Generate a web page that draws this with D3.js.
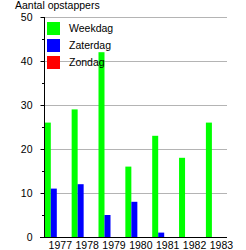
<!DOCTYPE html>
<html><head><meta charset="utf-8">
<script src="https://cdn.jsdelivr.net/npm/d3@7"></script>
<style>body{margin:0;background:#fff}svg{display:block;font-family:"Liberation Sans",Arial,sans-serif}</style>
</head><body>
<script>
const years = ["1977","1978","1979","1980","1981","1982","1983"];
const seriesNames = ["Weekdag","Zaterdag","Zondag"];
const seriesColors = ["#00ff00","#0000ff","#ff0000"];
const weekdag = [26,29,42,16,23,18,26];
const zaterdag = [11,12,5,8,1,0,0];
const zondag = [0,0,0,0,0,0,0];
const yTicks = [0,10,20,30,40,50];
const yTitle = "Aantal opstappers";

const seriesValues = [weekdag, zaterdag, zondag];
const W = 246, H = 250;
const svg = d3.select("body").append("svg").attr("width", W).attr("height", H);

const y = d3.scaleLinear().domain([0,50]).range([237,17]);
const x = d3.scaleBand().domain(years).range([44.8, 44.8 + 7*26.85]).padding(0);
const xs = d3.scaleBand().domain(seriesNames).range([0,18]).padding(0);

// gridlines
svg.append("g").selectAll("line").data(yTicks.filter(d=>d>0)).join("line")
  .attr("x1",44).attr("x2",227).attr("y1",d=>y(d)).attr("y2",d=>y(d))
  .attr("stroke","#b4b4b4").attr("stroke-width",1).attr("shape-rendering","crispEdges");

// bars
years.forEach((yr,i)=>{
  seriesNames.forEach((s,j)=>{
    const v = seriesValues[j][i];
    if (v>0) svg.append("rect")
      .attr("x", x(yr)+xs(s)).attr("width", xs.bandwidth())
      .attr("y", y(v)).attr("height", y(0)-y(v))
      .attr("fill", seriesColors[j]);
  });
});

// y axis
const yAxis = d3.axisLeft(y).tickValues(yTicks).tickSize(4).tickPadding(8);
const gy = svg.append("g").attr("transform","translate(44.5,0)").call(yAxis);
gy.select(".domain").attr("d","M0,"+y(50)+"V"+y(0)).attr("stroke","#000");
gy.selectAll("text").attr("font-size","10.5px").attr("fill","#000").attr("font-family","Liberation Sans, Arial, sans-serif");
// minor ticks
svg.append("g").selectAll("line").data([5,15,25,35,45]).join("line")
  .attr("x1",42).attr("x2",44.5).attr("y1",d=>Math.round(y(d))+0.5).attr("y2",d=>Math.round(y(d))+0.5)
  .attr("stroke","#000");

// x axis
svg.append("line").attr("x1",40).attr("x2",227).attr("y1",237.5).attr("y2",237.5).attr("stroke","#000");
svg.append("g").selectAll("text").data(years).join("text")
  .attr("x",d=>x(d)+15.5).attr("y",249).attr("text-anchor","middle")
  .attr("font-size","10.5px").attr("fill","#000").text(d=>d);

// title
svg.append("text").attr("x",15).attr("y",8.5).attr("font-size","10.5px").attr("fill","#000").text(yTitle);

// legend
const lg = svg.append("g");
seriesNames.forEach((s,i)=>{
  lg.append("rect").attr("x",47).attr("y",22+i*17).attr("width",13).attr("height",13).attr("fill",seriesColors[i]);
  lg.append("text").attr("x",69).attr("y",32+i*17).attr("font-size","10.5px").attr("fill","#000").text(s);
});
</script>
</body></html>
